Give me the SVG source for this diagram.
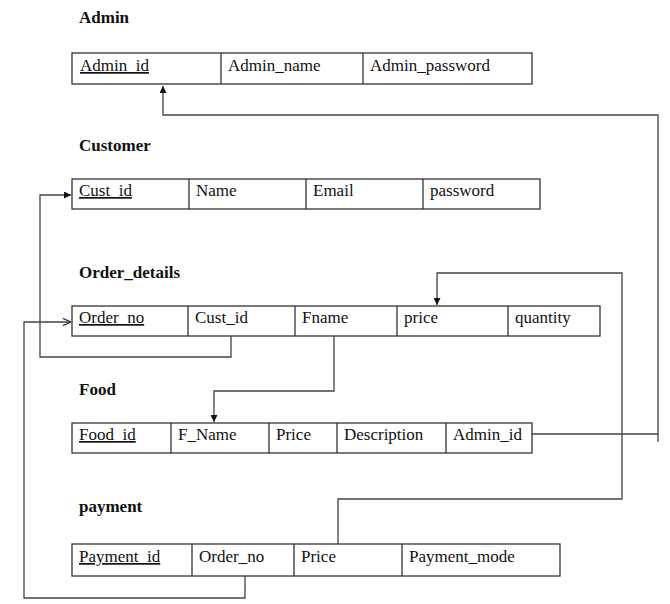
<svg xmlns="http://www.w3.org/2000/svg" width="670" height="604" viewBox="0 0 670 604">
<style>
text{font-family:"Liberation Serif","Times New Roman",serif;fill:#111}
.t{font-size:17px;font-weight:bold}
.c{font-size:17px}
.pk{text-decoration:underline}
.box{fill:#fff;stroke:#333;stroke-width:1.3}
.div{stroke:#333;stroke-width:1.3}
.ln{fill:none;stroke:#444;stroke-width:1.3}
</style>
<defs>
<marker id="ah" viewBox="0 0 10 10" refX="10" refY="5" markerWidth="7" markerHeight="7" markerUnits="userSpaceOnUse" orient="auto"><path d="M0,0 L10,5 L0,10 z" fill="#111"/></marker>
<marker id="oa" viewBox="0 0 10 10" refX="10" refY="5" markerWidth="9" markerHeight="9" markerUnits="userSpaceOnUse" orient="auto"><path d="M1,1 L10,5 L1,9" fill="none" stroke="#333" stroke-width="1.3"/></marker>
</defs>
<g id="connectors">
<path class="ln" d="M532,434 H658 V115 H163 V86" marker-end="url(#ah)"/>
<line class="ln" x1="658" y1="434" x2="658" y2="442"/>
<path class="ln" d="M231,336 V357 H40 V195 H71" marker-end="url(#ah)"/>
<path class="ln" d="M245,576 V598 H24 V322 H71" marker-end="url(#oa)"/>
<path class="ln" d="M338,544 V499 H622 V273 H437 V305" marker-end="url(#ah)"/>
<path class="ln" d="M334,336 V391 H214 V422" marker-end="url(#ah)"/>
</g>
<g id="admin">
<text class="t" x="79" y="23">Admin</text>
<rect class="box" x="72" y="53" width="460" height="31"/>
<line class="div" x1="221" y1="53" x2="221" y2="84"/>
<line class="div" x1="363" y1="53" x2="363" y2="84"/>
<text class="c pk" x="80" y="71">Admin_id</text>
<text class="c" x="228" y="71">Admin_name</text>
<text class="c" x="370" y="71">Admin_password</text>
</g>
<g id="customer">
<text class="t" x="79" y="151">Customer</text>
<rect class="box" x="72" y="179" width="468" height="30"/>
<line class="div" x1="189" y1="179" x2="189" y2="209"/>
<line class="div" x1="306" y1="179" x2="306" y2="209"/>
<line class="div" x1="423" y1="179" x2="423" y2="209"/>
<text class="c pk" x="79" y="196">Cust_id</text>
<text class="c" x="196" y="196">Name</text>
<text class="c" x="313" y="196">Email</text>
<text class="c" x="430" y="196">password</text>
</g>
<g id="order_details">
<text class="t" x="79" y="278">Order_details</text>
<rect class="box" x="72" y="306" width="528" height="30"/>
<line class="div" x1="188" y1="306" x2="188" y2="336"/>
<line class="div" x1="295" y1="306" x2="295" y2="336"/>
<line class="div" x1="397" y1="306" x2="397" y2="336"/>
<line class="div" x1="508" y1="306" x2="508" y2="336"/>
<text class="c pk" x="79" y="323">Order_no</text>
<text class="c" x="195" y="323">Cust_id</text>
<text class="c" x="302" y="323">Fname</text>
<text class="c" x="404" y="323">price</text>
<text class="c" x="515" y="323">quantity</text>
</g>
<g id="food">
<text class="t" x="79" y="395">Food</text>
<rect class="box" x="72" y="423" width="460" height="30"/>
<line class="div" x1="171" y1="423" x2="171" y2="453"/>
<line class="div" x1="269" y1="423" x2="269" y2="453"/>
<line class="div" x1="337" y1="423" x2="337" y2="453"/>
<line class="div" x1="446" y1="423" x2="446" y2="453"/>
<text class="c pk" x="79" y="440">Food_id</text>
<text class="c" x="178" y="440">F_Name</text>
<text class="c" x="276" y="440">Price</text>
<text class="c" x="344" y="440">Description</text>
<text class="c" x="453" y="440">Admin_id</text>
</g>
<g id="payment">
<text class="t" x="79" y="512">payment</text>
<rect class="box" x="72" y="544" width="488" height="32"/>
<line class="div" x1="192" y1="544" x2="192" y2="576"/>
<line class="div" x1="294" y1="544" x2="294" y2="576"/>
<line class="div" x1="402" y1="544" x2="402" y2="576"/>
<text class="c pk" x="79" y="562">Payment_id</text>
<text class="c" x="199" y="562">Order_no</text>
<text class="c" x="301" y="562">Price</text>
<text class="c" x="409" y="562">Payment_mode</text>
</g>
</svg>
